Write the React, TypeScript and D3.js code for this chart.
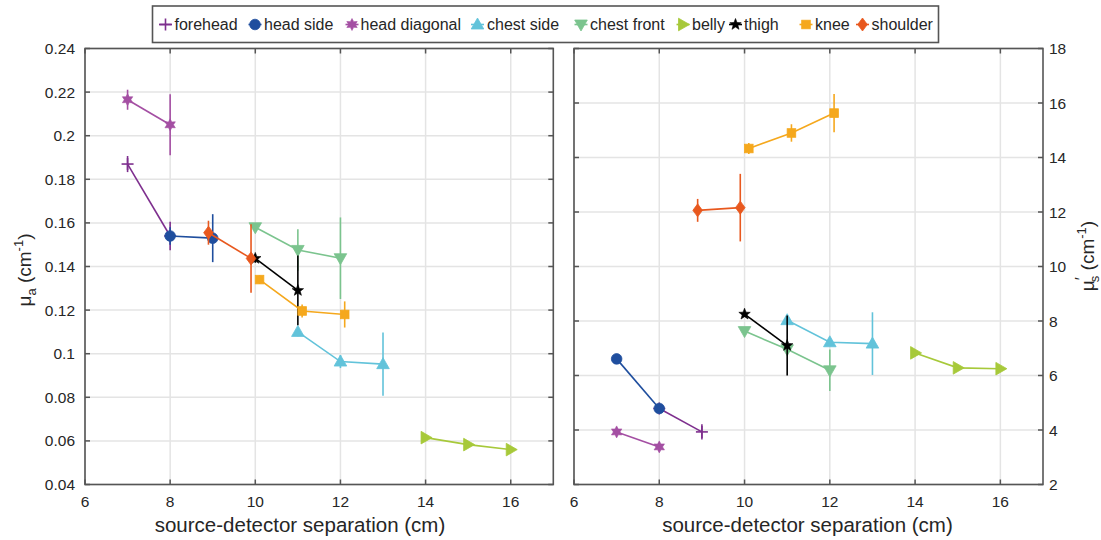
import React from "react";
import * as d3 from "d3";

// ---------- data ----------
const seriesNames = ["forehead", "head side", "head diagonal", "chest side", "chest front", "belly", "thigh", "knee", "shoulder"];
const seriesColors = ["#7E2F8E", "#1F4E9E", "#A44FA3", "#62C3DA", "#7BC48E", "#A7C93A", "#000000", "#F5A81D", "#E8581E"];
const seriesMarkers = ["plus", "circle", "hexagram", "triUp", "triDown", "triRight", "pentagram", "square", "diamond"];

// absorption (left panel)
const muaX = [[7, 8], [8, 9], [7, 8], [11, 12, 13], [10, 11, 12], [14, 15, 16], [10, 11], [10.1, 11.1, 12.1], [8.9, 9.9]];
const muaY = [[0.187, 0.154], [0.154, 0.153], [0.2165, 0.205], [0.110, 0.0964, 0.0952], [0.158, 0.1476, 0.1438], [0.0615, 0.0583, 0.056], [0.1437, 0.129], [0.134, 0.1196, 0.118], [0.1555, 0.1437]];
const muaErr = [[0.0037, 0.0065], [0.004, 0.011], [0.0046, 0.014], [0.002, 0.003, 0.0145], [0.002, 0.0095, 0.0187], [0.001, 0.001, 0.001], [0.002, 0.016], [0.002, 0.003, 0.006], [0.0055, 0.0157]];

// reduced scattering (right panel)
const musX = [[8, 9], [7, 8], [7, 8], [11, 12, 13], [10, 11, 12], [14, 15, 16], [10, 11], [10.1, 11.1, 12.1], [8.9, 9.9]];
const musY = [[4.79, 3.93], [6.61, 4.79], [3.93, 3.38], [8.03, 7.22, 7.17], [7.63, 6.96, 6.19], [6.83, 6.28, 6.25], [8.25, 7.1], [14.33, 14.9, 15.63], [12.06, 12.16]];
const musErr = [[0.1, 0.28], [0.1, 0.1], [0.1, 0.15], [0.1, 0.1, 1.15], [0.1, 0.1, 0.76], [0.05, 0.05, 0.05], [0.1, 1.1], [0.2, 0.32, 0.7], [0.42, 1.24]];

const xTicks = [6, 8, 10, 12, 14, 16];
const muaTicks = [0.04, 0.06, 0.08, 0.1, 0.12, 0.14, 0.16, 0.18, 0.2, 0.22, 0.24];
const musTicks = [2, 4, 6, 8, 10, 12, 14, 16, 18];

// legend layout (marker centre x, text start x)
const legendMarkerX = [165.5, 255, 352, 477.5, 581, 683, 735.5, 806, 862.5];
const legendTextX = [174.5, 264, 360.5, 487, 590, 692, 744, 815, 871.5];

const FONT = "'Liberation Sans', Arial, sans-serif";
const AXIS = "#555555";
const GRID = "#e4e4e4";
const TXT = "#262626";

function starPath(points: number, R: number, r: number): string {
  const pts: [number, number][] = [];
  for (let i = 0; i < points * 2; i++) {
    const rad = i % 2 === 0 ? R : r;
    const a = -Math.PI / 2 + (i * Math.PI) / points;
    pts.push([rad * Math.cos(a), rad * Math.sin(a)]);
  }
  return "M" + pts.map((p) => p[0].toFixed(2) + "," + p[1].toFixed(2)).join("L") + "Z";
}

function Marker({ type, x, y, color }: { type: string; x: number; y: number; color: string }) {
  const t = `translate(${x},${y})`;
  switch (type) {
    case "plus":
      return (
        <g transform={t} stroke={color} strokeWidth={1.6}>
          <line x1={-6} x2={6} y1={0} y2={0} />
          <line x1={0} x2={0} y1={-6} y2={6} />
        </g>
      );
    case "circle":
      return <circle cx={x} cy={y} r={5.3} fill={color} stroke={color} strokeWidth={0.8} />;
    case "hexagram":
      return <path transform={t} d={starPath(6, 6, 3.3)} fill={color} stroke={color} strokeWidth={0.6} />;
    case "pentagram":
      return <path transform={t} d={starPath(5, 6, 2.5)} fill={color} stroke={color} strokeWidth={0.6} />;
    case "triUp":
      return <path transform={t} d="M0,-6.5L6.3,4.5L-6.3,4.5Z" fill={color} stroke={color} strokeWidth={0.8} />;
    case "triDown":
      return <path transform={t} d="M0,6.5L6.3,-4.5L-6.3,-4.5Z" fill={color} stroke={color} strokeWidth={0.8} />;
    case "triRight":
      return <path transform={t} d="M6.5,0L-4.5,6.3L-4.5,-6.3Z" fill={color} stroke={color} strokeWidth={0.8} />;
    case "square":
      return <rect x={x - 4.3} y={y - 4.3} width={8.6} height={8.6} fill={color} stroke={color} strokeWidth={0.8} />;
    case "diamond":
      return <path transform={t} d="M0,-6.5L4.8,0L0,6.5L-4.8,0Z" fill={color} stroke={color} strokeWidth={0.8} />;
    default:
      return null;
  }
}

function fmt(v: number): string {
  return String(+v.toFixed(2));
}

function Panel({
  x0, x1, xs, ys, yTicks, X, Y, E, labelSide, labelCx,
}: {
  x0: number; x1: number; xs: d3.ScaleLinear<number, number>; ys: d3.ScaleLinear<number, number>;
  yTicks: number[]; X: number[][]; Y: number[][]; E: number[][]; labelSide: "left" | "right"; labelCx: number;
}) {
  const top = ys.range()[1];
  const bottom = ys.range()[0];
  const tl = 5;
  const line = d3.line<[number, number]>().x((d) => xs(d[0])).y((d) => ys(d[1]));
  return (
    <g>
      {/* grid */}
      {xTicks.map((t) => (
        <line key={"gx" + t} x1={xs(t)} x2={xs(t)} y1={top} y2={bottom} stroke={GRID} strokeWidth={1.5} />
      ))}
      {yTicks.map((t) => (
        <line key={"gy" + t} x1={x0} x2={x1} y1={ys(t)} y2={ys(t)} stroke={GRID} strokeWidth={1.5} />
      ))}
      {/* series */}
      {seriesNames.map((name, i) => {
        const pts: [number, number][] = X[i].map((x, j) => [x, Y[i][j]]);
        return (
          <g key={name}>
            <path d={line(pts) || ""} fill="none" stroke={seriesColors[i]} strokeWidth={1.6} />
            {pts.map((p, j) => (
              <line key={"e" + j} x1={xs(p[0])} x2={xs(p[0])} y1={ys(p[1] - E[i][j])} y2={ys(p[1] + E[i][j])}
                stroke={seriesColors[i]} strokeWidth={1.6} />
            ))}
            {pts.map((p, j) => (
              <Marker key={"m" + j} type={seriesMarkers[i]} x={xs(p[0])} y={ys(p[1])} color={seriesColors[i]} />
            ))}
          </g>
        );
      })}
      {/* box */}
      <rect x={x0} y={top} width={x1 - x0} height={bottom - top} fill="none" stroke={AXIS} strokeWidth={1.6} />
      {/* ticks */}
      {xTicks.map((t) => (
        <g key={"tx" + t}>
          <line x1={xs(t)} x2={xs(t)} y1={bottom} y2={bottom - tl} stroke={AXIS} strokeWidth={1.5} />
          <line x1={xs(t)} x2={xs(t)} y1={top} y2={top + tl} stroke={AXIS} strokeWidth={1.5} />
          <text x={xs(t)} y={507} textAnchor="middle" fontFamily={FONT} fontSize={15.5} fill={TXT}>{t}</text>
        </g>
      ))}
      {yTicks.map((t) => (
        <g key={"ty" + t}>
          <line x1={x0} x2={x0 + tl} y1={ys(t)} y2={ys(t)} stroke={AXIS} strokeWidth={1.5} />
          <line x1={x1} x2={x1 - tl} y1={ys(t)} y2={ys(t)} stroke={AXIS} strokeWidth={1.5} />
          {labelSide === "left" ? (
            <text x={x0 - 10} y={ys(t) + 5.5} textAnchor="end" fontFamily={FONT} fontSize={15.5} fill={TXT}>{fmt(t)}</text>
          ) : (
            <text x={x1 + 6} y={ys(t) + 5.5} textAnchor="start" fontFamily={FONT} fontSize={15.5} fill={TXT}>{fmt(t)}</text>
          )}
        </g>
      ))}
      <text x={labelCx} y={532} textAnchor="middle" fontFamily={FONT} fontSize={20.5} fill={TXT}>
        source-detector separation (cm)
      </text>
    </g>
  );
}

export default function App() {
  const xL = d3.scaleLinear().domain([6, 17]).range([85, 553.3]);
  const xR = d3.scaleLinear().domain([6, 17]).range([574, 1043]);
  const yL = d3.scaleLinear().domain([0.04, 0.24]).range([484.5, 48.5]);
  const yR = d3.scaleLinear().domain([2, 18]).range([484.5, 48.5]);

  return (
    <svg width={1101} height={540} style={{ position: "absolute", left: 0, top: 0, display: "block", background: "#fff" }}>
      <rect x={0} y={0} width={1101} height={540} fill="#fff" />
      <Panel x0={85} x1={553.3} xs={xL} ys={yL} yTicks={muaTicks} X={muaX} Y={muaY} E={muaErr} labelSide="left" labelCx={300} />
      <Panel x0={574} x1={1043} xs={xR} ys={yR} yTicks={musTicks} X={musX} Y={musY} E={musErr} labelSide="right" labelCx={807.5} />

      {/* y labels */}
      <text transform="translate(31,270) rotate(-90)" textAnchor="middle" fontFamily={FONT} fontSize={19} fill={TXT}>
        μ<tspan dy={5} fontSize={13}>a</tspan>
        <tspan dy={-5}>{"\u00a0(cm"}</tspan>
        <tspan dy={-8} fontSize={13}>-1</tspan>
        <tspan dy={8}>)</tspan>
      </text>
      <text transform="translate(1094,256) rotate(-90)" textAnchor="middle" fontFamily={FONT} fontSize={19} fill={TXT}>
        μ<tspan dy={-7} fontSize={16}>′</tspan>
        <tspan dy={12} dx={-5} fontSize={13}>s</tspan>
        <tspan dy={-5}>{"\u00a0(cm"}</tspan>
        <tspan dy={-8} fontSize={13}>-1</tspan>
        <tspan dy={8}>)</tspan>
      </text>

      {/* legend */}
      <rect x={152.5} y={6} width={786} height={36.5} fill="#fff" stroke={AXIS} strokeWidth={1.6} />
      {seriesNames.map((name, i) => (
        <g key={"lg" + name}>
          <line x1={legendMarkerX[i] - 6.5} x2={legendMarkerX[i] + 6.5} y1={24.5} y2={24.5} stroke={seriesColors[i]} strokeWidth={1.6} />
          <Marker type={seriesMarkers[i]} x={legendMarkerX[i]} y={24.5} color={seriesColors[i]} />
          <text x={legendTextX[i]} y={30} fontFamily={FONT} fontSize={16} fill={TXT}>{name}</text>
        </g>
      ))}
    </svg>
  );
}
